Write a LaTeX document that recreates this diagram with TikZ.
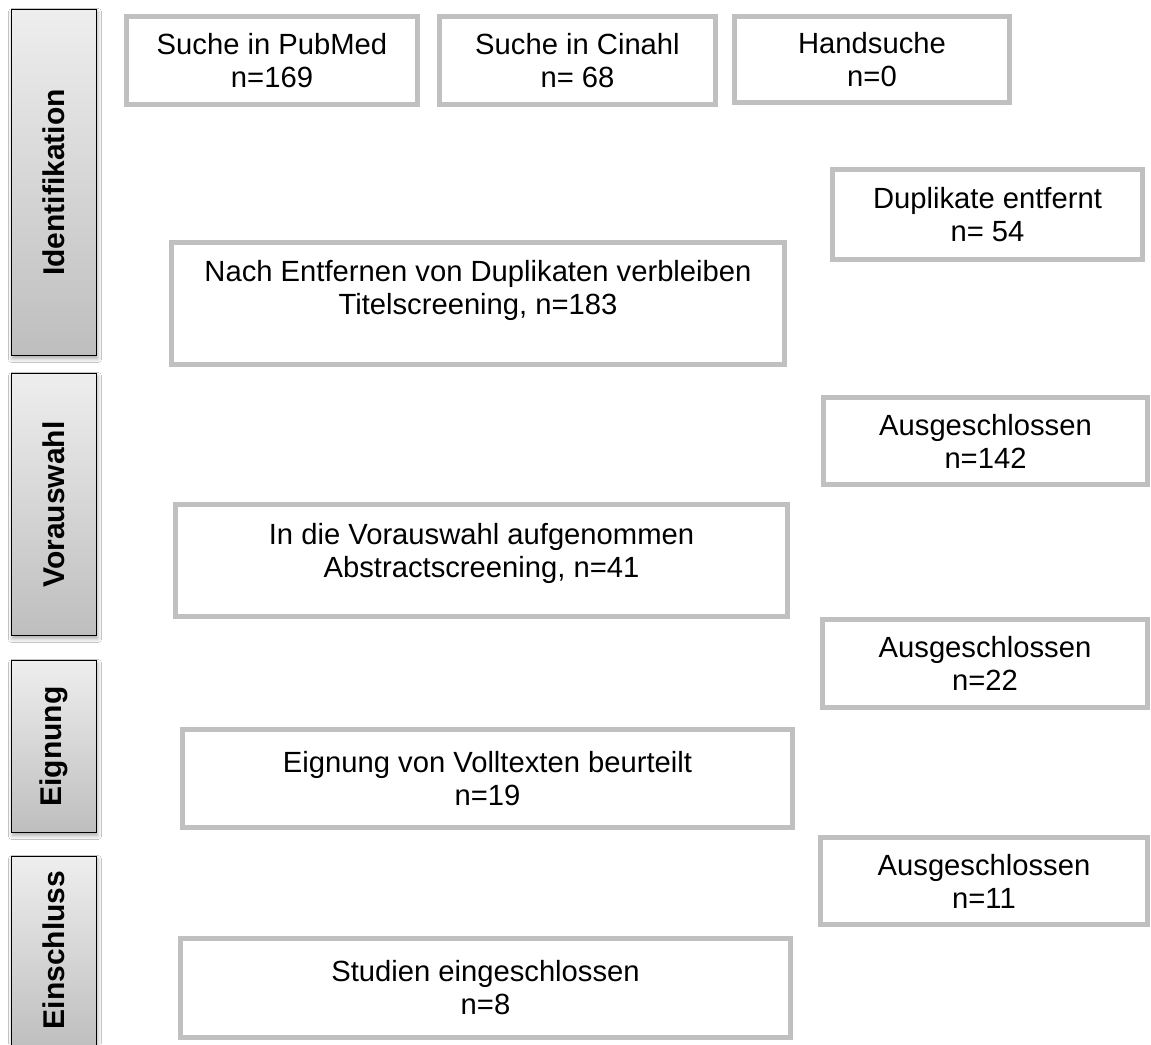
\documentclass[tikz,border=0pt]{standalone}
\usepackage{fontspec}
\setmainfont{Liberation Sans}
\usetikzlibrary{shadows.blur}
\definecolor{boxgray}{RGB}{192,192,192}
\definecolor{bartop}{RGB}{238,238,238}
\definecolor{barbot}{RGB}{190,190,190}
\tikzset{
  box/.style={draw=boxgray, line width=2.5pt, fill=white, align=center,
    inner sep=0pt, font=\fontsize{14.6}{16.5}\selectfont},
  boxtext/.style={align=center, inner sep=0pt, font=\fontsize{14.6}{16.5}\selectfont},
  bar/.style={draw=black, line width=0.75pt, top color=bartop, bottom color=barbot,
    inner sep=0pt, minimum width=42.5pt,
    blur shadow={shadow xshift=0.5pt, shadow yshift=-1.5pt, shadow blur steps=6, shadow opacity=35}},
  barlabel/.style={rotate=90, font=\fontsize{15}{16}\selectfont\bfseries, inner sep=0pt}
}
\begin{document}
\begin{tikzpicture}[x=0.5pt, y=-0.5pt]
\useasboundingbox (0,0) rectangle (1151,1044);
\clip (0,0) rectangle (1151,1044);
\fill[white] (0,0) rectangle (1151,1044);
% phase bars
\node[bar, minimum height=173pt] (b1) at (54,182.5) {};
\node[barlabel] (t1) at (b1.center) {Identifikation};
\node[bar, minimum height=131pt] (b2) at (54,504.5) {};
\node[barlabel] (t2) at (b2.center) {Vorauswahl};
\node[bar, minimum height=86pt] (b3) at (54,746.5) {};
\node[barlabel] (t3) at (b3.center) {Eignung};
\node[bar, minimum height=96.5pt] (b4) at (54,953) {};
\node[barlabel] (t4) at (54,950) {Einschluss};
% boxes
\node[box, minimum width=145.5pt, minimum height=44pt] (pub) at (272,60.5) {Suche in PubMed\\n=169};
\node[box, minimum width=138pt, minimum height=44pt] (cin) at (577.5,60.5) {Suche in Cinahl\\n= 68};
\node[box, minimum width=137.5pt, minimum height=43pt] (hand) at (872,59.5) {Handsuche\\n=0};
\node[box, minimum width=155pt, minimum height=45pt] (dup) at (987.5,214.5) {Duplikate entfernt\\n= 54};
\node[box, minimum width=306.5pt, minimum height=61pt] (rem) at (478,303.5) {};
\node[boxtext] (remt) at (478,290) {Nach Entfernen von Duplikaten verbleiben\\Titelscreening, n=183};
\node[box, minimum width=162pt, minimum height=43.5pt] (ex1) at (985.5,441) {Ausgeschlossen\\n=142};
\node[box, minimum width=306pt, minimum height=56pt] (pre) at (481.5,560.5) {};
\node[boxtext] (pret) at (481.5,553) {In die Vorauswahl aufgenommen\\Abstractscreening, n=41};
\node[box, minimum width=162.5pt, minimum height=44pt] (ex2) at (985,663.5) {Ausgeschlossen\\n=22};
\node[box, minimum width=305pt, minimum height=49pt] (elig) at (487.5,778.5) {Eignung von Volltexten beurteilt\\n=19};
\node[box, minimum width=163.5pt, minimum height=43.5pt] (ex3) at (984,881) {Ausgeschlossen\\n=11};
\node[box, minimum width=305pt, minimum height=49.5pt] (inc) at (485.5,988) {Studien eingeschlossen\\n=8};
\end{tikzpicture}
\end{document}
